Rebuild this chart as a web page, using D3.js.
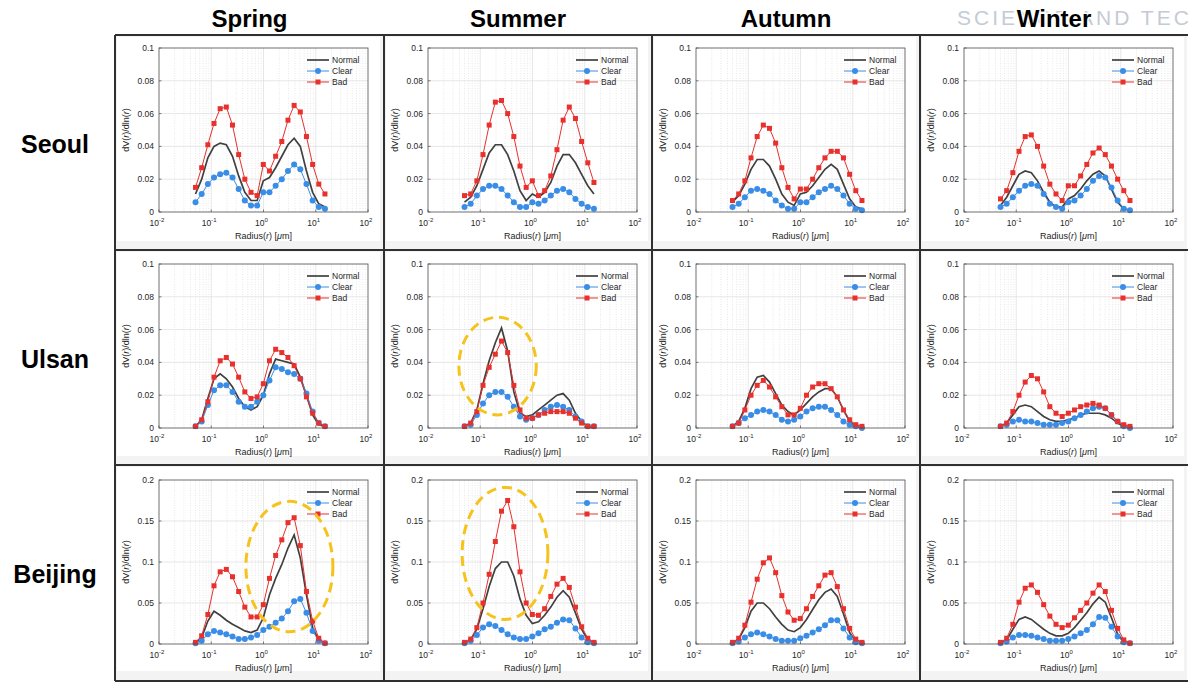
<!DOCTYPE html>
<html lang="en">
<head>
<meta charset="utf-8">
<title>Seasonal volume size distribution</title>
<style>
  body { margin:0; background:#fff; }
  svg  { display:block; }
  text { font-family: "Liberation Sans", Arial, sans-serif; }
</style>
</head>
<body>
<script src="https://d3js.org/d3.v7.min.js"></script>
<script>
// AERONET-style 22 radius bins (um)
const radii = [0.05, 0.065604, 0.086077, 0.112939, 0.148184, 0.194429, 0.255105, 0.334716,
  0.439173, 0.576227, 0.756052, 0.991996, 1.301571, 1.707757, 2.240702, 2.939966,
  3.857452, 5.06126, 6.640745, 8.713145, 11.432287, 15.0];

const seasons = ["Spring", "Summer", "Autumn", "Winter"];
const cities  = ["Seoul", "Ulsan", "Beijing"];
const seriesNames = ["Normal", "Clear", "Bad"];

// each array: [spring, summer, autumn, winter]
const seoulNormal = [
  [0.011,0.020,0.033,0.040,0.042,0.041,0.034,0.022,0.012,0.007,0.007,0.019,0.021,0.027,0.034,0.041,0.045,0.040,0.025,0.012,0.005,0.003],
  [0.006,0.009,0.016,0.026,0.036,0.041,0.041,0.035,0.025,0.013,0.007,0.011,0.009,0.012,0.018,0.028,0.035,0.035,0.030,0.023,0.016,0.011],
  [0.006,0.010,0.017,0.026,0.032,0.032,0.028,0.020,0.011,0.006,0.004,0.011,0.012,0.016,0.021,0.026,0.029,0.026,0.017,0.008,0.003,0.002],
  [0.004,0.009,0.016,0.023,0.025,0.024,0.019,0.012,0.006,0.003,0.003,0.008,0.010,0.014,0.019,0.023,0.025,0.022,0.014,0.006,0.002,0.001]
];
const seoulClear = [
  [0.006,0.011,0.017,0.021,0.023,0.024,0.021,0.014,0.007,0.004,0.004,0.012,0.012,0.016,0.020,0.025,0.029,0.026,0.017,0.007,0.003,0.002],
  [0.003,0.005,0.010,0.014,0.016,0.016,0.014,0.010,0.006,0.003,0.003,0.006,0.005,0.007,0.010,0.013,0.014,0.012,0.008,0.005,0.003,0.002],
  [0.003,0.005,0.009,0.013,0.014,0.013,0.011,0.007,0.004,0.002,0.002,0.006,0.006,0.009,0.012,0.014,0.016,0.014,0.010,0.005,0.002,0.001],
  [0.003,0.005,0.009,0.013,0.016,0.017,0.016,0.011,0.005,0.003,0.002,0.006,0.007,0.010,0.014,0.019,0.022,0.021,0.015,0.007,0.002,0.001]
];
const seoulBad = [
  [0.015,0.027,0.041,0.054,0.063,0.064,0.053,0.035,0.020,0.012,0.010,0.029,0.025,0.034,0.043,0.056,0.065,0.061,0.046,0.029,0.017,0.011],
  [0.010,0.011,0.019,0.035,0.053,0.067,0.068,0.060,0.046,0.028,0.015,0.019,0.010,0.013,0.022,0.038,0.056,0.064,0.057,0.043,0.030,0.018],
  [0.007,0.011,0.019,0.033,0.046,0.053,0.051,0.042,0.027,0.015,0.008,0.014,0.014,0.020,0.027,0.033,0.037,0.037,0.033,0.023,0.013,0.007],
  [0.008,0.013,0.024,0.037,0.046,0.047,0.040,0.028,0.017,0.011,0.007,0.016,0.016,0.022,0.029,0.036,0.039,0.035,0.028,0.020,0.013,0.007]
];
const ulsanNormal = [
  [0.001,0.005,0.018,0.030,0.033,0.030,0.025,0.018,0.013,0.011,0.013,0.020,0.033,0.042,0.041,0.040,0.039,0.031,0.020,0.008,0.002,0.001],
  [0.001,0.003,0.011,0.027,0.041,0.052,0.061,0.047,0.022,0.009,0.007,0.008,0.011,0.014,0.017,0.020,0.021,0.017,0.009,0.004,0.001,0.000],
  [0.001,0.004,0.012,0.024,0.031,0.032,0.028,0.021,0.014,0.010,0.008,0.011,0.015,0.019,0.022,0.024,0.024,0.019,0.011,0.004,0.001,0.000],
  [0.001,0.003,0.008,0.013,0.014,0.013,0.010,0.007,0.005,0.004,0.004,0.005,0.006,0.008,0.009,0.009,0.009,0.008,0.006,0.003,0.001,0.000]
];
const ulsanClear = [
  [0.001,0.004,0.014,0.023,0.026,0.026,0.022,0.016,0.013,0.013,0.016,0.020,0.029,0.037,0.036,0.034,0.033,0.030,0.021,0.010,0.003,0.001],
  [0.001,0.002,0.008,0.015,0.020,0.022,0.022,0.019,0.013,0.007,0.005,0.006,0.008,0.011,0.013,0.014,0.013,0.011,0.007,0.004,0.001,0.001],
  [0.001,0.003,0.006,0.008,0.010,0.011,0.010,0.008,0.005,0.004,0.005,0.007,0.010,0.012,0.013,0.013,0.011,0.008,0.004,0.002,0.001,0.000],
  [0.001,0.002,0.004,0.005,0.004,0.004,0.003,0.002,0.002,0.002,0.003,0.004,0.006,0.008,0.010,0.012,0.013,0.012,0.008,0.004,0.001,0.000]
];
const ulsanBad = [
  [0.001,0.005,0.016,0.031,0.041,0.043,0.039,0.031,0.022,0.018,0.019,0.027,0.041,0.048,0.046,0.043,0.038,0.030,0.019,0.009,0.003,0.001],
  [0.001,0.003,0.010,0.026,0.037,0.045,0.053,0.046,0.026,0.011,0.006,0.006,0.008,0.009,0.010,0.010,0.010,0.009,0.006,0.003,0.001,0.001],
  [0.001,0.003,0.011,0.020,0.026,0.029,0.025,0.019,0.013,0.008,0.008,0.012,0.020,0.025,0.027,0.027,0.024,0.019,0.011,0.005,0.002,0.001],
  [0.001,0.003,0.010,0.020,0.028,0.032,0.030,0.022,0.013,0.009,0.007,0.009,0.011,0.013,0.014,0.015,0.014,0.012,0.008,0.004,0.002,0.001]
];
const beijingNormal = [
  [0.001,0.008,0.028,0.040,0.035,0.029,0.024,0.020,0.016,0.014,0.017,0.032,0.060,0.080,0.097,0.117,0.133,0.105,0.060,0.020,0.004,0.001],
  [0.001,0.005,0.018,0.043,0.070,0.092,0.100,0.100,0.083,0.055,0.035,0.025,0.027,0.035,0.045,0.057,0.065,0.057,0.038,0.018,0.005,0.001],
  [0.001,0.006,0.020,0.040,0.050,0.050,0.043,0.033,0.024,0.017,0.015,0.020,0.030,0.042,0.054,0.063,0.067,0.058,0.037,0.014,0.003,0.001],
  [0.001,0.005,0.018,0.030,0.033,0.030,0.024,0.018,0.013,0.010,0.010,0.013,0.020,0.029,0.038,0.049,0.057,0.051,0.032,0.012,0.003,0.001]
];
const beijingClear = [
  [0.001,0.004,0.012,0.016,0.014,0.012,0.009,0.006,0.006,0.008,0.011,0.017,0.021,0.026,0.031,0.040,0.052,0.055,0.038,0.016,0.004,0.001],
  [0.001,0.004,0.011,0.020,0.024,0.022,0.017,0.012,0.008,0.006,0.006,0.009,0.013,0.018,0.021,0.026,0.030,0.029,0.019,0.008,0.002,0.001],
  [0.001,0.003,0.008,0.012,0.014,0.012,0.009,0.006,0.004,0.004,0.004,0.007,0.010,0.014,0.018,0.023,0.029,0.029,0.019,0.008,0.002,0.001],
  [0.001,0.003,0.008,0.011,0.011,0.010,0.008,0.006,0.004,0.004,0.004,0.006,0.009,0.013,0.017,0.024,0.033,0.032,0.021,0.009,0.002,0.001]
];
const beijingBad = [
  [0.002,0.010,0.036,0.071,0.088,0.091,0.082,0.064,0.045,0.033,0.033,0.048,0.080,0.108,0.127,0.148,0.154,0.120,0.064,0.028,0.007,0.001],
  [0.002,0.006,0.020,0.050,0.085,0.125,0.162,0.175,0.143,0.088,0.050,0.036,0.035,0.043,0.058,0.073,0.080,0.069,0.045,0.021,0.007,0.002],
  [0.002,0.007,0.023,0.051,0.079,0.099,0.105,0.087,0.059,0.039,0.029,0.031,0.043,0.058,0.071,0.084,0.087,0.070,0.043,0.019,0.006,0.002],
  [0.002,0.007,0.024,0.051,0.068,0.072,0.063,0.048,0.034,0.024,0.020,0.023,0.032,0.041,0.050,0.062,0.072,0.064,0.041,0.019,0.005,0.001]
];

const cityData = [
  [seoulNormal, seoulClear, seoulBad],
  [ulsanNormal, ulsanClear, ulsanBad],
  [beijingNormal, beijingClear, beijingBad]
];
const yMaxByCity  = [0.1, 0.1, 0.2];
const yStepByCity = [0.02, 0.02, 0.05];
const xTickPowers = [-2, -1, 0, 1, 2];

// highlighted regions: [row, col, r from, r to, value from, value to]
const highlights = [
  [1, 1, 0.039, 1.18, 0.008, 0.0675],
  [2, 0, 0.46, 21.3, 0.015, 0.174],
  [2, 1, 0.045, 1.97, 0.030, 0.191]
];

// ---- layout ----
const W = 1188, H = 684;
const colX = [115, 384, 652, 920, 1188];
const rowY = [35, 250, 465, 681];
const axTop = [48, 264, 480];
const axW = 209, axH = 164, axLeftOff = 44;

const colors = { Normal: "#404040", Clear: "#3a8de6", Bad: "#e8302c" };
const ink = "#262626";

const svg = d3.select("body").append("svg")
  .attr("width", W).attr("height", H);

// cell backgrounds (the pasted figures)
for (let r = 0; r < 3; r++) {
  for (let c = 0; c < 4; c++) {
    svg.append("rect")
      .attr("x", colX[c] + 1).attr("y", rowY[r] + 1)
      .attr("width", colX[c + 1] - colX[c] - 2).attr("height", rowY[r + 1] - rowY[r] - 2)
      .attr("fill", "#f3f3f3");
    svg.append("rect")
      .attr("x", colX[c] + 2).attr("y", rowY[r] + 2)
      .attr("width", colX[c + 1] - colX[c] - 6).attr("height", 204)
      .attr("fill", "#fff");
  }
}

// watermark behind the header
svg.append("text")
  .attr("x", 957).attr("y", 25)
  .attr("fill", "#c5cbd4")
  .style("font-size", "21px")
  .style("letter-spacing", "3px")
  .text("SCIENCE AND TECH");

// headers
svg.append("g").selectAll("text")
  .data(seasons)
  .join("text")
    .attr("x", (d, i) => (colX[i] + colX[i + 1]) / 2)
    .attr("y", 27)
    .attr("text-anchor", "middle")
    .style("font-size", "24px")
    .style("font-weight", "bold")
    .style("paint-order", "stroke")
    .attr("stroke", "#fff").attr("stroke-width", 3)
    .attr("fill", "#000")
    .text(d => d);

svg.append("g").selectAll("text")
  .data(cities)
  .join("text")
    .attr("x", 55)
    .attr("y", (d, i) => (rowY[i] + rowY[i + 1]) / 2 + 10)
    .attr("text-anchor", "middle")
    .style("font-size", "25px")
    .style("font-weight", "bold")
    .attr("fill", "#000")
    .text(d => d);

// ---- panels ----
function drawPanel(r, c) {
  const left = colX[c] + axLeftOff, top = axTop[r];
  const g = svg.append("g").attr("transform", `translate(${left},${top})`);
  const x = d3.scaleLog().domain([1e-2, 1e2]).range([0, axW]);
  const y = d3.scaleLinear().domain([0, yMaxByCity[r]]).range([axH, 0]);
  const yTicks = d3.range(0, yMaxByCity[r] + 1e-9, yStepByCity[r]);

  // minor grid (log)
  const minor = [];
  for (let p = -2; p < 2; p++) for (let m = 2; m <= 9; m++) minor.push(m * Math.pow(10, p));
  g.append("g").selectAll("line").data(minor).join("line")
    .attr("x1", d => x(d)).attr("x2", d => x(d))
    .attr("y1", 0).attr("y2", axH)
    .attr("stroke", "#d6d6d6").attr("stroke-width", 0.6)
    .attr("stroke-dasharray", "1,1.5");
  // major grid
  g.append("g").selectAll("line").data(xTickPowers.slice(1, -1)).join("line")
    .attr("x1", d => x(Math.pow(10, d))).attr("x2", d => x(Math.pow(10, d)))
    .attr("y1", 0).attr("y2", axH)
    .attr("stroke", "#dcdcdc").attr("stroke-width", 0.7);
  g.append("g").selectAll("line").data(yTicks.slice(1, -1)).join("line")
    .attr("x1", 0).attr("x2", axW)
    .attr("y1", d => y(d)).attr("y2", d => y(d))
    .attr("stroke", "#dcdcdc").attr("stroke-width", 0.7);

  // series
  const [nArr, cArr, bArr] = cityData[r];
  const line = d3.line().x((d, i) => x(radii[i])).y(d => y(d));
  g.append("path").datum(nArr[c]).attr("d", line)
    .attr("fill", "none").attr("stroke", colors.Normal).attr("stroke-width", 1.7);
  g.append("path").datum(cArr[c]).attr("d", line)
    .attr("fill", "none").attr("stroke", colors.Clear).attr("stroke-width", 1);
  g.append("g").selectAll("circle").data(cArr[c]).join("circle")
    .attr("cx", (d, i) => x(radii[i])).attr("cy", d => y(d)).attr("r", 3)
    .attr("fill", colors.Clear);
  g.append("path").datum(bArr[c]).attr("d", line)
    .attr("fill", "none").attr("stroke", colors.Bad).attr("stroke-width", 1);
  g.append("g").selectAll("rect").data(bArr[c]).join("rect")
    .attr("x", (d, i) => x(radii[i]) - 2.5).attr("y", d => y(d) - 2.5)
    .attr("width", 5).attr("height", 5)
    .attr("fill", colors.Bad);

  // box and ticks
  g.append("rect").attr("width", axW).attr("height", axH)
    .attr("fill", "none").attr("stroke", "#4d4d4d").attr("stroke-width", 0.8);
  g.append("g").selectAll("line").data(yTicks).join("line")
    .attr("x1", 0).attr("x2", 2.5).attr("y1", d => y(d)).attr("y2", d => y(d))
    .attr("stroke", "#4d4d4d").attr("stroke-width", 0.7);
  g.append("g").selectAll("line").data(xTickPowers).join("line")
    .attr("x1", d => x(Math.pow(10, d))).attr("x2", d => x(Math.pow(10, d)))
    .attr("y1", axH).attr("y2", axH - 2.5)
    .attr("stroke", "#4d4d4d").attr("stroke-width", 0.7);

  // tick labels
  g.append("g").selectAll("text").data(yTicks).join("text")
    .attr("x", -5).attr("y", d => y(d) + 3)
    .attr("text-anchor", "end")
    .style("font-size", "8.5px").attr("fill", ink)
    .text(d => d3.format("~g")(+d.toFixed(3)));
  const xl = g.append("g").selectAll("text").data(xTickPowers).join("text")
    .attr("x", d => x(Math.pow(10, d)) - 2).attr("y", axH + 13.5)
    .attr("text-anchor", "middle")
    .style("font-size", "8.5px").attr("fill", ink);
  xl.append("tspan").text("10");
  xl.append("tspan").attr("dy", -4).style("font-size", "6px").text(d => d);

  // axis labels
  const xt = g.append("text").attr("x", axW / 2).attr("y", axH + 27)
    .attr("text-anchor", "middle").style("font-size", "9px").attr("fill", ink);
  xt.append("tspan").text("Radius(");
  xt.append("tspan").style("font-style", "italic").text("r");
  xt.append("tspan").text(") [");
  xt.append("tspan").style("font-style", "italic").text("\u03bc");
  xt.append("tspan").text("m]");

  const yt = g.append("text")
    .attr("transform", `translate(-30,${axH / 2}) rotate(-90)`)
    .attr("text-anchor", "middle").style("font-size", "9px").attr("fill", ink);
  yt.append("tspan").text("dV(");
  yt.append("tspan").style("font-style", "italic").text("r");
  yt.append("tspan").text(")/dln(");
  yt.append("tspan").style("font-style", "italic").text("r");
  yt.append("tspan").text(")");

  // legend
  const lg = g.append("g").attr("transform", "translate(148,12)");
  seriesNames.forEach((name, i) => {
    const row = lg.append("g").attr("transform", `translate(0,${i * 11})`);
    row.append("line").attr("x1", 0).attr("x2", 22)
      .attr("stroke", colors[name]).attr("stroke-width", name === "Normal" ? 1.7 : 1);
    if (name === "Clear") row.append("circle").attr("cx", 11).attr("r", 3).attr("fill", colors.Clear);
    if (name === "Bad") row.append("rect").attr("x", 8.5).attr("y", -2.5).attr("width", 5).attr("height", 5).attr("fill", colors.Bad);
    row.append("text").attr("x", 25).attr("y", 3)
      .style("font-size", "8.5px").attr("fill", ink).text(name);
  });

  // highlight ellipse
  highlights.filter(h => h[0] === r && h[1] === c).forEach(h => {
    const x0 = x(h[2]), x1 = x(h[3]), y0 = y(h[5]), y1 = y(h[4]);
    g.append("ellipse")
      .attr("cx", (x0 + x1) / 2).attr("cy", (y0 + y1) / 2)
      .attr("rx", (x1 - x0) / 2).attr("ry", (y1 - y0) / 2)
      .attr("fill", "none").attr("stroke", "#f6c21c")
      .attr("stroke-width", 3).attr("stroke-dasharray", "10,6");
  });
}

for (let r = 0; r < 3; r++) for (let c = 0; c < 4; c++) drawPanel(r, c);

// table lines
const tl = svg.append("g").attr("stroke", "#303030").attr("stroke-width", 2);
colX.slice(0, 4).forEach(xv => tl.append("line")
  .attr("x1", xv).attr("x2", xv).attr("y1", rowY[0]).attr("y2", rowY[3]));
rowY.forEach(yv => tl.append("line")
  .attr("x1", colX[0]).attr("x2", W).attr("y1", yv).attr("y2", yv));
</script>
</body>
</html>
